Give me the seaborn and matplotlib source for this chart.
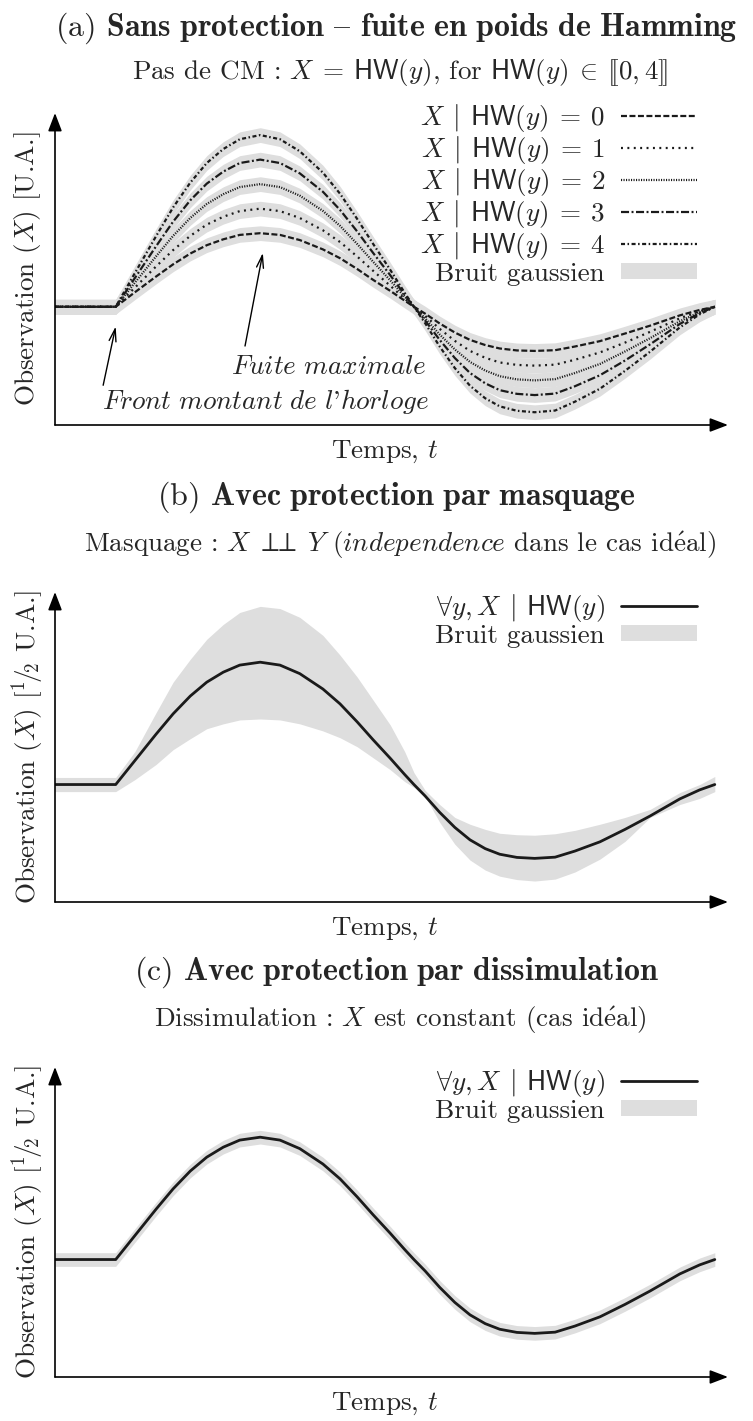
import numpy as np
import matplotlib
matplotlib.use("Agg")
import matplotlib.pyplot as plt
from matplotlib.lines import Line2D
from matplotlib.patches import Patch
import seaborn as sns

# ---------------------------------------------------------------- data
# time axis in arbitrary units (clock rising edge at t = 9.2)
time = [0, 9.2, 12.1, 15.3, 17.9, 20.5, 23.0, 25.5, 28.0, 31.1, 34.1, 37.1,
        40.6, 43.2, 45.8, 48.2, 50.8, 53.0, 54.4, 56.1, 58.3, 60.6, 62.9,
        65.2, 67.4, 70.0, 72.7, 75.8, 78.8, 82.6, 86.4, 90.2, 94.7, 97.7, 100]

# mean observation for each Hamming weight class
hw0 = [0, 0, 0.59, 1.23, 1.73, 2.17, 2.51, 2.75, 2.93, 3.00, 2.93, 2.72, 2.34,
       1.98, 1.54, 1.10, 0.65, 0.25, 0, -0.28, -0.68, -1.05, -1.35, -1.56,
       -1.70, -1.78, -1.80, -1.77, -1.62, -1.40, -1.09, -0.77, -0.35, -0.13, 0]
hw1 = [0, 0, 0.78, 1.64, 2.31, 2.89, 3.35, 3.67, 3.90, 4.00, 3.90, 3.62, 3.12,
       2.64, 2.05, 1.47, 0.86, 0.33, 0, -0.37, -0.90, -1.39, -1.80, -2.08,
       -2.27, -2.37, -2.40, -2.36, -2.16, -1.86, -1.46, -1.02, -0.47, -0.18, 0]
hw2 = [0, 0, 0.98, 2.05, 2.89, 3.62, 4.19, 4.59, 4.88, 5.00, 4.88, 4.53, 3.91,
       3.30, 2.56, 1.84, 1.08, 0.41, 0, -0.47, -1.13, -1.74, -2.25, -2.60,
       -2.83, -2.96, -3.00, -2.95, -2.70, -2.33, -1.82, -1.28, -0.59, -0.22, 0]
hw3 = [0, 0, 1.17, 2.46, 3.47, 4.34, 5.02, 5.51, 5.86, 6.00, 5.86, 5.44, 4.69,
       3.95, 3.07, 2.20, 1.29, 0.49, 0, -0.56, -1.35, -2.09, -2.70, -3.12,
       -3.40, -3.55, -3.60, -3.54, -3.24, -2.79, -2.19, -1.53, -0.70, -0.26, 0]
hw4 = [0, 0, 1.37, 2.87, 4.05, 5.06, 5.86, 6.43, 6.83, 7.00, 6.83, 6.34, 5.47,
       4.61, 3.58, 2.57, 1.51, 0.57, 0, -0.67, -1.62, -2.50, -3.22, -3.73,
       -4.06, -4.24, -4.30, -4.23, -3.87, -3.34, -2.61, -1.83, -0.84, -0.31, 0]
hw_traces = [hw0, hw1, hw2, hw3, hw4]
hw_labels = [r"$X \:\mid\: \mathsf{HW}(y) \:=\: %d$" % k for k in range(5)]

# single trace seen whatever y (masking / hiding countermeasures)
protected_trace = [0, 0, 0.98, 2.06, 2.90, 3.63, 4.20, 4.61, 4.90, 5.02, 4.90,
                   4.55, 3.92, 3.31, 2.57, 1.84, 1.08, 0.41, 0, -0.47, -1.14,
                   -1.76, -2.27, -2.63, -2.86, -2.99, -3.03, -2.98, -2.73,
                   -2.35, -1.84, -1.29, -0.59, -0.22, 0]

# spread of the masked observation
masked_upper = [0.29, 0.29, 1.35, 2.94, 4.20, 5.14, 5.96, 6.57, 7.06, 7.31,
                7.22, 6.86, 6.12, 5.31, 4.41, 3.47, 2.45, 1.35, 0.49, -0.24,
                -0.82, -1.35, -1.63, -1.84, -2.00, -2.06, -2.08, -2.02, -1.88,
                -1.63, -1.35, -1.02, -0.33, 0.0, 0.33]
masked_lower = [-0.29, -0.29, 0.20, 0.82, 1.43, 1.88, 2.29, 2.49, 2.65, 2.69,
                2.65, 2.49, 2.20, 1.92, 1.55, 1.10, 0.61, 0.12, -0.12, -0.49,
                -1.55, -2.45, -3.10, -3.51, -3.76, -3.90, -3.96, -3.88, -3.59,
                -3.06, -2.33, -1.35, -0.82, -0.57, -0.29]

noise_unprotected = 0.30
noise_hiding = 0.28

# ---------------------------------------------------------------- style
sns.set_theme(style="white")
plt.rcParams["font.family"] = ["cmr10", "DejaVu Serif"]
plt.rcParams["mathtext.fontset"] = "cm"
plt.rcParams["axes.unicode_minus"] = False
plt.rcParams["axes.formatter.use_mathtext"] = True
plt.rcParams["lines.scale_dashes"] = False

INK = "#1a1a1a"
BAND = "#dedede"
FS = 19.5
FS_TITLE = 23
LW = 1.6

hw_dashes = [(0, (4.3, 1.8)),
             (0, (1.4, 3.2)),
             (0, (0.8, 1.0)),
             (0, (5.8, 1.8, 1.4, 1.8)),
             (0, (2.9, 1.8, 1.1, 1.8))]

# cmr10 is OT1-encoded: the "{" slot holds the en dash glyph
EN_DASH = "{"
E_ACUTE = r"$\acute{\mathrm{e}}$"

W, H = 753, 1421
fig = plt.figure(figsize=(W / 100, H / 100), dpi=100)


def make_axes(top, bottom, left=55, right=728):
    return fig.add_axes([left / W, 1 - bottom / H, (right - left) / W,
                         (bottom - top) / H])


def decorate(ax, ylabel):
    ax.set_xlim(0, 102)
    ax.set_ylim(-4.82, 7.9)
    for s in ax.spines.values():
        s.set_visible(False)
    ax.set_xticks([])
    ax.set_yticks([])
    arrow = dict(arrowstyle="-|>,head_length=1.1,head_width=0.42", lw=1.2,
                 color="black", shrinkA=0, shrinkB=0, mutation_scale=10)
    ax.annotate("", xy=(0, 1), xytext=(0, 0), xycoords="axes fraction",
                textcoords="axes fraction", arrowprops=arrow,
                annotation_clip=False)
    ax.annotate("", xy=(1, 0), xytext=(0, 0), xycoords="axes fraction",
                textcoords="axes fraction", arrowprops=arrow,
                annotation_clip=False)
    ax.set_xlabel(r"Temps, $t$", fontsize=FS)
    ax.xaxis.set_label_coords(0.49, -0.087)
    ax.xaxis.label.set_va("center")
    ax.set_ylabel(ylabel, fontsize=FS)
    ax.yaxis.set_label_coords(-0.041, 0.5)
    ax.yaxis.label.set_va("center")


def add_legend(ax, handles, labels, top):
    ax.legend(handles, labels, loc="upper right", bbox_to_anchor=(0.954, top),
              frameon=False, markerfirst=False, fontsize=FS,
              handlelength=2.8, handletextpad=0.6, labelspacing=0.0,
              borderaxespad=0, borderpad=0, handleheight=0.55)


def title_block(y_title, y_sub, title, subtitle):
    fig.text(396 / W, 1 - y_title / H, title, ha="center", va="center",
             fontsize=FS_TITLE)
    fig.text(400 / W, 1 - y_sub / H, subtitle, ha="center", va="center",
             fontsize=FS)


t = np.asarray(time)

# ---------------------------------------------------------------- (a)
ax_a = make_axes(113, 425)
for vals in hw_traces:
    v = np.asarray(vals)
    ax_a.fill_between(t, v - noise_unprotected, v + noise_unprotected,
                      color=BAND, lw=0, zorder=1)
for vals, dash in zip(hw_traces, hw_dashes):
    sns.lineplot(x=t, y=vals, ax=ax_a, color=INK, lw=LW, linestyle=dash,
                 estimator=None, sort=False, zorder=3)
decorate(ax_a, r"Observation $(X)$ [U.A.]")
handles = [Line2D([], [], color=INK, lw=LW, linestyle=d) for d in hw_dashes]
handles.append(Patch(facecolor=BAND, edgecolor="none"))
add_legend(ax_a, handles, hw_labels + ["Bruit gaussien"], 1.035)

arrow_note = dict(arrowstyle="->,head_length=0.9,head_width=0.25", lw=1.0,
                  color="black", shrinkA=0, shrinkB=0, mutation_scale=10)
ax_a.annotate("", xy=(31.5, 2.2), xytext=(28.8, -1.6), arrowprops=arrow_note)
ax_a.annotate("", xy=(9.2, -0.8), xytext=(7.3, -3.2), arrowprops=arrow_note)
ax_a.text(56.2, -2.45, r"$\mathit{Fuite\ maximale}$", ha="right",
          va="center", fontsize=FS)
ax_a.text(56.6, -3.88, r"$\mathit{Front\ montant\ de\ l}$'$\mathit{horloge}$",
          ha="right", va="center", fontsize=FS)

title_block(28, 73,
            r"(a) $\mathbf{Sans\ protection}$ " + EN_DASH +
            r" $\mathbf{fuite\ en\ poids\ de\ Hamming}$",
            r"Pas de CM : $X \:=\: \mathsf{HW}(y)$, for "
            r"$\mathsf{HW}(y) \:\in\: [\![0, 4]\!]$")

ylabel_half = r"Observation $(X)$ [$^{1}\!/\!_{2}$ U.A.]"
single_handles = [Line2D([], [], color=INK, lw=LW + 0.4),
                  Patch(facecolor=BAND, edgecolor="none")]
single_labels = [r"$\forall y, X \:\mid\: \mathsf{HW}(y)$", "Bruit gaussien"]

# ---------------------------------------------------------------- (b)
ax_b = make_axes(592, 902)
ax_b.fill_between(t, masked_lower, masked_upper, color=BAND, lw=0, zorder=1)
sns.lineplot(x=t, y=protected_trace, ax=ax_b, color=INK, lw=LW + 0.4,
             estimator=None, sort=False, zorder=3)
decorate(ax_b, ylabel_half)
add_legend(ax_b, single_handles, single_labels, 1.0)
title_block(497, 545,
            r"(b) $\mathbf{Avec\ protection\ par\ masquage}$",
            r"Masquage : $X \;\perp\!\!\!\perp\; Y$ "
            r"($\mathit{independence}$ dans le cas id" + E_ACUTE + "al)")

# ---------------------------------------------------------------- (c)
ax_c = make_axes(1067, 1377)
pc = np.asarray(protected_trace)
ax_c.fill_between(t, pc - noise_hiding, pc + noise_hiding, color=BAND, lw=0,
                  zorder=1)
sns.lineplot(x=t, y=protected_trace, ax=ax_c, color=INK, lw=LW + 0.4,
             estimator=None, sort=False, zorder=3)
decorate(ax_c, ylabel_half)
add_legend(ax_c, single_handles, single_labels, 1.0)
title_block(972, 1020,
            r"(c) $\mathbf{Avec\ protection\ par\ dissimulation}$",
            r"Dissimulation : $X$ est constant (cas id" + E_ACUTE + "al)")

fig.savefig("out.png", dpi=100)
